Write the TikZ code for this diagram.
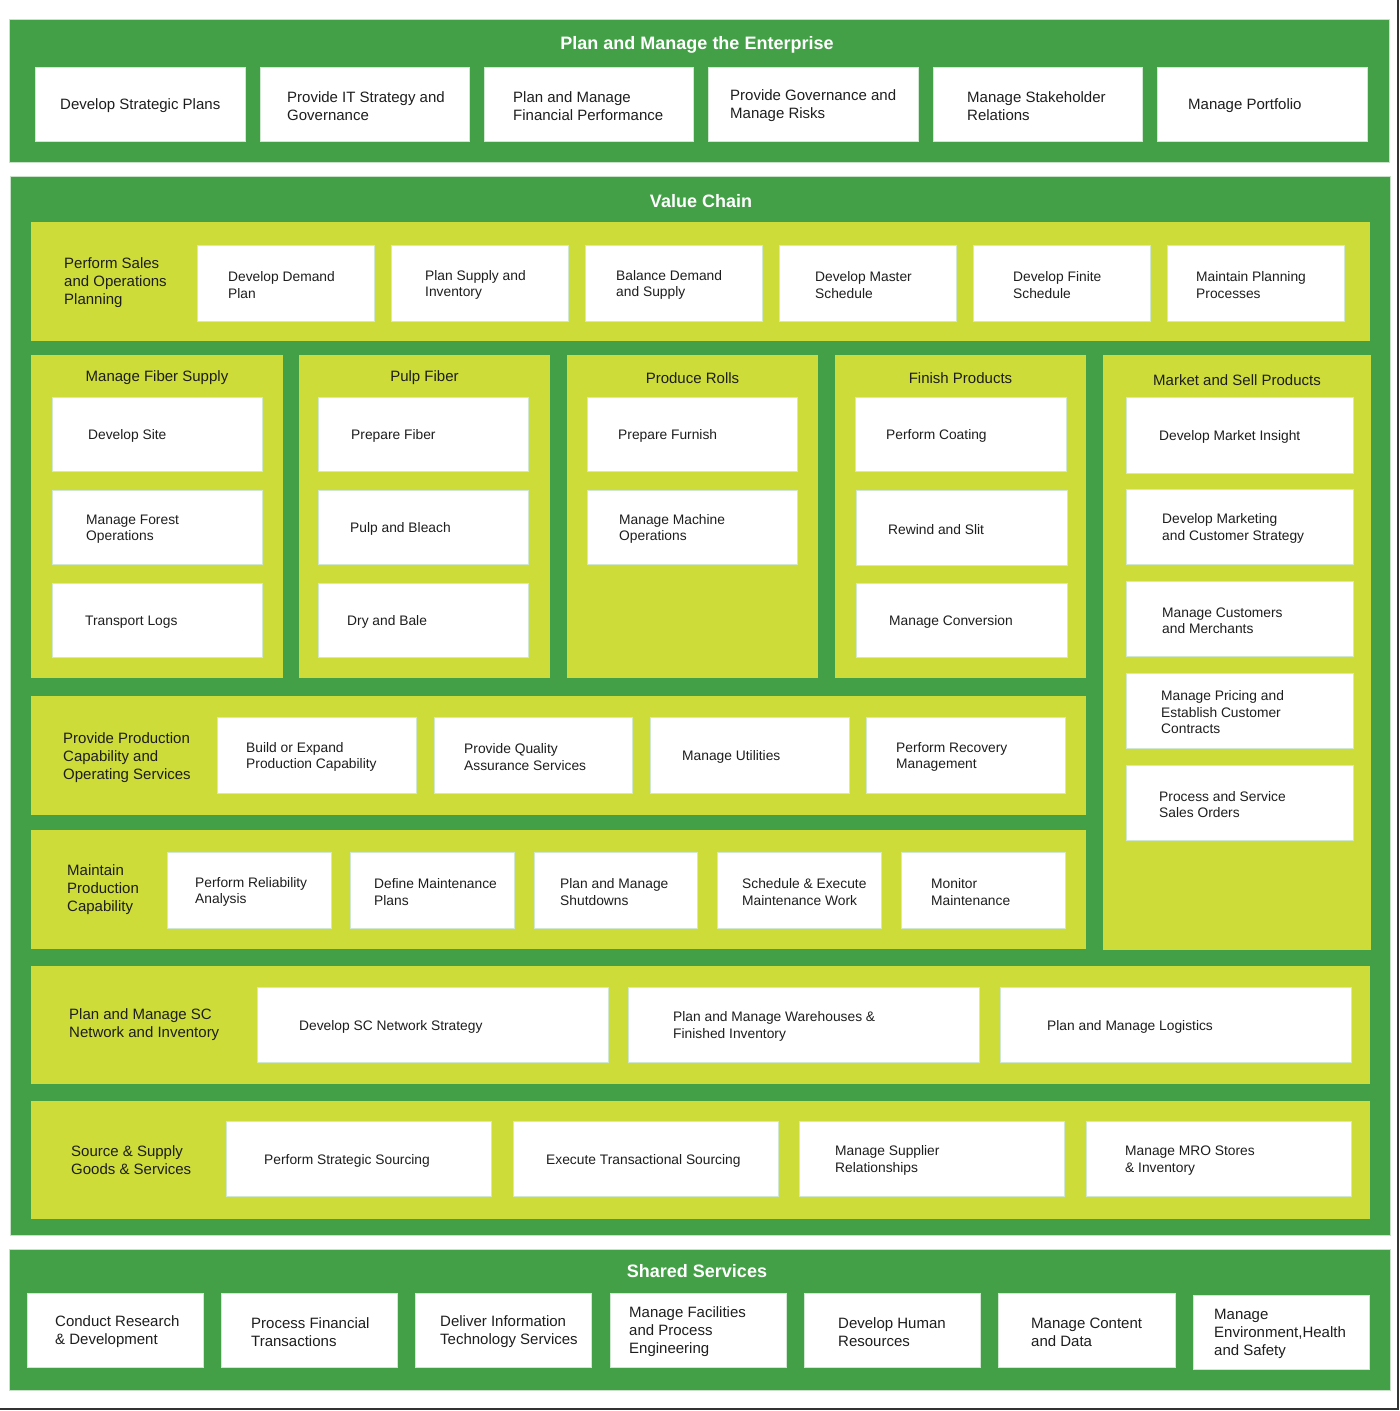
\documentclass[tikz,border=0pt]{standalone}
\usepackage{fontspec}
\setmainfont{Liberation Sans}
\definecolor{dg}{HTML}{43A047}
\definecolor{lg}{HTML}{CDDC39}
\definecolor{tc}{HTML}{1E1E1E}
\tikzset{
  wbox/.style={fill=white, draw=white!75!dg, line width=0.6pt, inner sep=0pt},
  gbox/.style={fill=dg, draw=white!70!dg, line width=0.5pt, inner sep=0pt},
  lbox/.style={fill=lg, draw=none, inner sep=0pt},
  bigt/.style={font=\fontsize{15}{18}\selectfont, text=tc, align=left, inner sep=0pt, yshift=-2pt},
  smlt/.style={font=\fontsize{13.8}{16.5}\selectfont, text=tc, align=left, inner sep=0pt, yshift=-2pt},
  ttl/.style={font=\fontsize{18}{20}\selectfont\bfseries, text=white, inner sep=0pt, yshift=-2pt},
  colt/.style={font=\fontsize{15}{18}\selectfont, text=tc, inner sep=0pt, yshift=-2pt},
  frameline/.style={line width=2pt, draw=black!80}
}
\newcommand\rbox[6]{\node[#1, minimum width={#5-#3}, minimum height={#6-#4}] (#2) at ({(#3+#5)/2},{(#4+#6)/2}) {};}
\newcommand\wb[8]{\rbox{wbox}{#2}{#3}{#4}{#5}{#6}\node[#1,anchor=west] (#2-t) at (#7,{(#4+#6)/2}) {#8};}
\begin{document}
\begin{tikzpicture}[x=1pt,y=-1pt]
\useasboundingbox (0,0) rectangle (1400,1411);
\fill[white] (0,0) rectangle (1400,1411);
% ---------- Plan and Manage the Enterprise
\rbox{gbox}{ent}{9}{19}{1389}{162}
\node[ttl] (ent-title) at (697,43) {Plan and Manage the Enterprise};
\wb{bigt}{e1}{35}{67}{245}{141}{60}{Develop Strategic Plans}
\wb{bigt}{e2}{260}{67}{469}{141}{287}{Provide IT Strategy and\\Governance}
\wb{bigt}{e3}{484}{67}{693}{141}{513}{Plan and Manage\\Financial Performance}
\wb{bigt}{e4}{708}{67}{918}{141}{730}{Provide Governance and\\Manage Risks}
\wb{bigt}{e5}{933}{67}{1142}{141}{967}{Manage Stakeholder\\Relations}
\wb{bigt}{e6}{1157}{67}{1367}{141}{1188}{Manage Portfolio}
% ---------- Value Chain
\rbox{gbox}{vc}{10}{176}{1390}{1235}
\node[ttl] (vc-title) at (701,199) {Value Chain};
% S&OP
\rbox{lbox}{sop}{31}{222}{1370}{341}
\node[bigt,anchor=west] (sop-t) at (64,281) {Perform Sales\\and Operations\\Planning};
\wb{smlt}{s1}{197}{245}{374}{321}{228}{Develop Demand\\Plan}
\wb{smlt}{s2}{391}{245}{568}{321}{425}{Plan Supply and\\Inventory}
\wb{smlt}{s3}{585}{245}{762}{321}{616}{Balance Demand\\and Supply}
\wb{smlt}{s4}{779}{245}{956}{321}{815}{Develop Master\\Schedule}
\wb{smlt}{s5}{973}{245}{1150}{321}{1013}{Develop Finite\\Schedule}
\wb{smlt}{s6}{1167}{245}{1344}{321}{1196}{Maintain Planning\\Processes}
% Columns
\rbox{lbox}{fib}{31}{355}{283}{678}
\node[colt] (fib-title) at (157,376) {Manage Fiber Supply};
\wb{smlt}{f1}{52}{397}{262}{471}{88}{Develop Site}
\wb{smlt}{f2}{52}{490}{262}{564}{86}{Manage Forest\\Operations}
\wb{smlt}{f3}{52}{583}{262}{657}{85}{Transport Logs}
\rbox{lbox}{pulp}{299}{355}{550}{678}
\node[colt] (pulp-title) at (424.5,376) {Pulp Fiber};
\wb{smlt}{p1}{318}{397}{528}{471}{351}{Prepare Fiber}
\wb{smlt}{p2}{318}{490}{528}{564}{350}{Pulp and Bleach}
\wb{smlt}{p3}{318}{583}{528}{657}{347}{Dry and Bale}
\rbox{lbox}{rolls}{567}{355}{818}{678}
\node[colt] (rolls-title) at (692.5,376) {Produce Rolls};
\wb{smlt}{r1}{587}{397}{797}{471}{618}{Prepare Furnish}
\wb{smlt}{r2}{587}{490}{797}{564}{619}{Manage Machine\\Operations}
\rbox{lbox}{fin}{835}{355}{1086}{678}
\node[colt] (fin-title) at (960.5,376) {Finish Products};
\wb{smlt}{n1}{855}{397}{1066}{471}{886}{Perform Coating}
\wb{smlt}{n2}{856}{490}{1067}{565}{888}{Rewind and Slit}
\wb{smlt}{n3}{856}{583}{1067}{657}{889}{Manage Conversion}
\rbox{lbox}{mkt}{1103}{355}{1371}{950}
\node[colt] (mkt-title) at (1237,378) {Market and Sell Products};
\wb{smlt}{m1}{1126}{397}{1353}{473}{1159}{Develop Market Insight}
\wb{smlt}{m2}{1126}{489}{1353}{564}{1162}{Develop Marketing\\and Customer Strategy}
\wb{smlt}{m3}{1126}{581}{1353}{656}{1162}{Manage Customers\\and Merchants}
\wb{smlt}{m4}{1126}{673}{1353}{748}{1161}{Manage Pricing and\\Establish Customer\\Contracts}
\wb{smlt}{m5}{1126}{765}{1353}{840}{1159}{Process and Service\\Sales Orders}
% Provide Production
\rbox{lbox}{pp}{31}{696}{1086}{815}
\node[bigt,anchor=west] (pp-t) at (63,756) {Provide Production\\Capability and\\Operating Services};
\wb{smlt}{pp1}{217}{717}{416}{793}{246}{Build or Expand\\Production Capability}
\wb{smlt}{pp2}{434}{717}{632}{793}{464}{Provide Quality\\Assurance Services}
\wb{smlt}{pp3}{650}{717}{849}{793}{682}{Manage Utilities}
\wb{smlt}{pp4}{866}{717}{1065}{793}{896}{Perform Recovery\\Management}
% Maintain
\rbox{lbox}{mp}{31}{830}{1086}{949}
\node[bigt,anchor=west] (mp-t) at (67,888) {Maintain\\Production\\Capability};
\wb{smlt}{mp1}{167}{852}{331}{928}{195}{Perform Reliability\\Analysis}
\wb{smlt}{mp2}{350}{852}{514}{928}{374}{Define Maintenance\\Plans}
\wb{smlt}{mp3}{534}{852}{697}{928}{560}{Plan and Manage\\Shutdowns}
\wb{smlt}{mp4}{717}{852}{881}{928}{742}{Schedule \& Execute\\Maintenance Work}
\wb{smlt}{mp5}{901}{852}{1065}{928}{931}{Monitor\\Maintenance}
% SC network
\rbox{lbox}{sc}{31}{966}{1370}{1084}
\node[bigt,anchor=west] (sc-t) at (69,1023) {Plan and Manage SC\\Network and Inventory};
\wb{smlt}{sc1}{257}{987}{608}{1062}{299}{Develop SC Network Strategy}
\wb{smlt}{sc2}{628}{987}{979}{1062}{673}{Plan and Manage Warehouses \&\\Finished Inventory}
\wb{smlt}{sc3}{1000}{987}{1351}{1062}{1047}{Plan and Manage Logistics}
% Source
\rbox{lbox}{src}{31}{1101}{1370}{1219}
\node[bigt,anchor=west] (src-t) at (71,1158) {Source \& Supply\\Goods \& Services};
\wb{smlt}{so1}{226}{1121}{491}{1196}{264}{Perform Strategic Sourcing}
\wb{smlt}{so2}{513}{1121}{778}{1196}{546}{Execute Transactional Sourcing}
\wb{smlt}{so3}{799}{1121}{1064}{1196}{835}{Manage Supplier\\Relationships}
\wb{smlt}{so4}{1086}{1121}{1351}{1196}{1125}{Manage MRO Stores\\\& Inventory}
% ---------- Shared Services
\rbox{gbox}{sh}{9}{1249}{1390}{1390}
\node[ttl] (sh-title) at (697,1269) {Shared Services};
\wb{bigt}{h1}{27}{1293}{203}{1367}{55}{Conduct Research\\\& Development}
\wb{bigt}{h2}{221}{1293}{397}{1367}{251}{Process Financial\\Transactions}
\wb{bigt}{h3}{415}{1293}{591}{1367}{440}{Deliver Information\\Technology Services}
\wb{bigt}{h4}{610}{1293}{786}{1367}{629}{Manage Facilities\\and Process\\Engineering}
\wb{bigt}{h5}{804}{1293}{980}{1367}{838}{Develop Human\\Resources}
\wb{bigt}{h6}{998}{1293}{1175}{1367}{1031}{Manage Content\\and Data}
\wb{bigt}{h7}{1193}{1295}{1369}{1369}{1214}{Manage\\Environment,Health\\and Safety}
% ---------- frame edges
\draw[frameline] (1398,0) -- (1398,1410);
\draw[frameline] (0,1409) -- (1399,1409);
\end{tikzpicture}
\end{document}
